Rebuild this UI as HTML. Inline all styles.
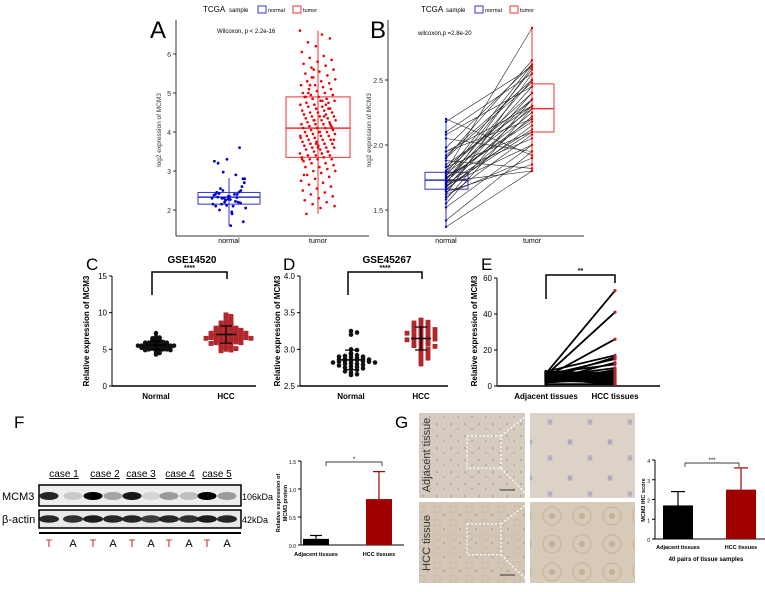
<!DOCTYPE html>
<html><head><meta charset="utf-8">
<style>
html,body{margin:0;padding:0;background:#fff;}
svg{display:block;font-family:"Liberation Sans",Arial,sans-serif;}
</style></head>
<body>
<svg id="fig" width="765" height="592" viewBox="0 0 765 592" xmlns="http://www.w3.org/2000/svg">
<defs>
<pattern id="tis1" width="14" height="12" patternUnits="userSpaceOnUse">
<rect width="14" height="12" fill="#d5cbbf"/><circle cx="3" cy="4" r="0.8" fill="#8d86a0"/><circle cx="10" cy="9" r="0.7" fill="#9a90a6"/></pattern>
<pattern id="tis2" width="16" height="14" patternUnits="userSpaceOnUse">
<rect width="16" height="14" fill="#d3c6b6"/><circle cx="5" cy="5" r="3.5" fill="none" stroke="#c8b8a3" stroke-width="0.8"/><circle cx="12" cy="11" r="0.8" fill="#a48f7a"/></pattern>
<pattern id="tis3" width="40" height="36" patternUnits="userSpaceOnUse">
<rect width="40" height="36" fill="#dcd2c8"/><ellipse cx="10" cy="10" rx="2.5" ry="3" fill="#b4abc3"/><ellipse cx="30" cy="26" rx="2.5" ry="3" fill="#bab0c6"/></pattern>
<pattern id="tis4" width="30" height="28" patternUnits="userSpaceOnUse">
<rect width="30" height="28" fill="#d8cab8"/><circle cx="12" cy="12" r="9" fill="none" stroke="#cbb89f" stroke-width="1.5"/><circle cx="12" cy="12" r="3" fill="#c4b098"/></pattern>
</defs>
<g id="root"></g>
</svg>
<script>
// ---------- DATA ----------
const aNormal=[2.3,2.2,2.4,2.1,2.35,2.5,2.0,1.9,2.8,2.97,2.9,3.25,3.3,3.6,3.2,1.6,1.7,2.3,2.4,2.15,2.25,2.2,2.45,2.35,2.6,2.55,2.1,2.05,2.3,2.32,2.4,2.28,2.18,2.42,1.95,2.7,2.5,2.22,2.38,2.12,2.46,2.33,2.27,2.8,2.15];
const aTumor=[6.6,6.5,6.3,6.4,6.2,6.05,5.95,5.9,5.85,5.8,5.75,5.7,5.65,5.6,5.55,5.5,5.45,5.4,5.35,5.3,5.3,5.25,5.2,5.2,5.15,5.1,5.1,5.05,5.0,5.0,4.95,4.95,4.9,4.9,4.85,4.85,4.8,4.8,4.75,4.75,4.7,4.7,4.65,4.65,4.6,4.6,4.55,4.55,4.5,4.5,4.5,4.45,4.45,4.4,4.4,4.4,4.35,4.35,4.3,4.3,4.3,4.25,4.25,4.2,4.2,4.2,4.15,4.15,4.1,4.1,4.1,4.05,4.05,4.0,4.0,4.0,3.95,3.95,3.9,3.9,3.9,3.85,3.85,3.8,3.8,3.8,3.75,3.75,3.7,3.7,3.7,3.65,3.65,3.6,3.6,3.6,3.55,3.55,3.5,3.5,3.45,3.45,3.4,3.4,3.4,3.35,3.35,3.3,3.3,3.3,3.25,3.2,3.2,3.15,3.1,3.1,3.05,3.0,3.0,2.95,2.9,2.85,2.8,2.75,2.7,2.65,2.6,2.55,2.5,2.45,2.4,2.35,2.3,2.25,2.2,2.15,2.1,2.05,1.9,4.6,4.3,3.9,4.8,5.0,4.2,3.7,3.3,4.4,5.2,4.1,3.6,2.9,4.7,5.4,3.8,4.0,4.9,3.5,5.6];
const bNormal=[2.2,2.18,2.1,2.08,2.05,1.98,1.95,1.92,1.9,1.88,1.85,1.83,1.8,1.8,1.78,1.77,1.76,1.75,1.74,1.73,1.72,1.72,1.71,1.7,1.7,1.69,1.68,1.67,1.66,1.65,1.64,1.62,1.6,1.58,1.55,1.52,1.42,1.37,1.9,1.78,1.74,1.68,1.83,1.95,1.62];
const bTumor=[1.92,2.6,2.55,2.45,1.95,2.62,2.2,2.5,2.65,1.82,2.3,2.1,2.9,2.4,2.28,2.05,2.58,2.18,2.35,2.5,1.8,2.25,2.45,2.12,2.6,2.0,2.3,2.4,2.15,2.22,1.85,2.55,2.08,2.35,2.28,2.0,1.95,1.8,2.48,2.62,2.2,2.1,2.35,2.3,1.9];
const cNormal=[7.2,6.7,6.6,6.6,6.5,6.4,6.3,6.3,6.2,6.1,6.1,6.0,6.0,5.9,5.9,5.9,5.8,5.8,5.8,5.7,5.7,5.7,5.7,5.6,5.6,5.6,5.6,5.6,5.5,5.5,5.5,5.5,5.5,5.5,5.4,5.4,5.4,5.4,5.4,5.4,5.3,5.3,5.3,5.3,5.3,5.2,5.2,5.2,5.2,5.1,5.1,5.1,5.0,5.0,5.0,4.9,4.9,4.8,4.7,4.6,4.5,4.3];
const cHcc=[9.7,9.6,9.5,9.2,9.0,8.8,8.7,8.6,8.5,8.4,8.3,8.2,8.1,8.0,7.9,7.9,7.8,7.8,7.7,7.7,7.6,7.6,7.5,7.5,7.4,7.4,7.3,7.3,7.2,7.2,7.1,7.1,7.0,7.0,7.0,6.9,6.9,6.8,6.8,6.8,6.7,6.7,6.6,6.6,6.6,6.5,6.5,6.4,6.4,6.3,6.3,6.2,6.2,6.1,6.1,6.0,6.0,5.9,5.9,5.8,5.7,5.6,5.5,5.4,5.3,5.2,5.1,5.0,4.9,4.8];
const dNormal=[3.25,3.23,3.2,3.0,2.99,2.95,2.93,2.92,2.91,2.9,2.9,2.89,2.88,2.87,2.87,2.86,2.86,2.85,2.85,2.84,2.84,2.83,2.83,2.82,2.82,2.81,2.8,2.8,2.79,2.78,2.77,2.76,2.75,2.74,2.73,2.72,2.7,2.68,2.66,2.65];
const dHcc=[3.4,3.39,3.37,3.36,3.35,3.33,3.32,3.3,3.29,3.28,3.27,3.26,3.25,3.24,3.23,3.22,3.21,3.2,3.19,3.18,3.17,3.16,3.15,3.14,3.13,3.12,3.1,3.09,3.08,3.07,3.05,3.04,3.02,3.0,2.98,2.96,2.94,2.92,2.9,2.88,2.85,2.8];
const eAdj=[7,6,5,8,4,6,3,7,5,2,6,4,8,3,5,7,2,6,4,5,3,7,6,1,5,4,8,2,6,3,5,7];
const eHcc=[53,41,26,17,16,15,13,12,10,9,8,7,7,6,5,5,4,4,3,3,2,2,2,1,1,1,6,4,3,2,1,1];
const fCats=["Adjacent tissues","HCC tissues"];
const fMeans=[0.11,0.82];
const fErrs=[0.06,0.49];
const gCats=["Adjacent tissues","HCC tissues"];
const gMeans=[1.7,2.5];
const gErrs=[0.7,1.1];
const wbCases=["case 1","case 2","case 3","case 4","case 5"];
const wbLanes=["T","A","T","A","T","A","T","A","T","A"];
const mcm3Band=[0.85,0.15,1.0,0.3,0.9,0.1,0.35,0.2,1.0,0.35];
const actinBand=[0.9,0.85,0.95,0.9,0.9,0.8,0.9,0.85,0.95,0.9];

// ---------- HELPERS ----------
const NS="http://www.w3.org/2000/svg";
const root=document.getElementById('root');
function mk(tag,attrs,parent,text){const e=document.createElementNS(NS,tag);for(const k in attrs)e.setAttribute(k,attrs[k]);if(text!==undefined)e.textContent=text;(parent||root).appendChild(e);return e;}
function grp(name){const g=mk('g',{});


return g;}
function lin(d0,d1,r0,r1){return v=>r0+(v-d0)/(d1-d0)*(r1-r0);}
function yAxis(g,x,y,ticks,fmt,fs){mk('line',{x1:x,y1:y(ticks[0])+0,x2:x,y2:y(ticks[ticks.length-1]),stroke:'#000','stroke-width':1},g);
ticks.forEach(t=>{mk('line',{x1:x-3,y1:y(t),x2:x,y2:y(t),stroke:'#000'},g);mk('text',{x:x-5,y:y(t)+3,'font-size':fs,'text-anchor':'end'},g,fmt(t));});}

// ---------- PANEL A ----------
(function(){
const g=grp('panel-a');
const y=lin(2,6,210,54);
mk('text',{x:150,y:38,'font-size':24},g,'A');
mk('line',{x1:176,y1:20,x2:176,y2:236,stroke:'#333'},g);
mk('line',{x1:176,y1:236,x2:369,y2:236,stroke:'#333'},g);
[2,3,4,5,6].forEach(t=>{mk('line',{x1:173,y1:y(t),x2:176,y2:y(t),stroke:'#333'},g);mk('text',{x:171,y:y(t)+3,'font-size':7,'text-anchor':'end',fill:'#333'},g,t);});
const yl=mk('text',{x:0,y:0,'font-size':6.5,'text-anchor':'middle',transform:'translate(161,130) rotate(-90)',fill:'#333'},g,'log2 expression of MCM3');


mk('text',{x:229,y:243,'font-size':7,'text-anchor':'middle'},g,'normal');
mk('text',{x:318,y:243,'font-size':7,'text-anchor':'middle'},g,'tumor');
mk('text',{x:217,y:33,'font-size':6},g,'Wilcoxon, p < 2.2e-16');
mk('text',{x:203,y:12,'font-size':8},g,'TCGA');
mk('text',{x:229,y:12,'font-size':6},g,'sample');
mk('rect',{x:258,y:6,width:8,height:7,fill:'none',stroke:'#33c'},g);
mk('text',{x:268,y:12,'font-size':5.5},g,'normal');
mk('rect',{x:293,y:6,width:8,height:7,fill:'none',stroke:'#e33'},g);
mk('text',{x:303,y:12,'font-size':5.5},g,'tumor');
function box(cx,w,col,q){
mk('line',{x1:cx,y1:y(q[3]),x2:cx,y2:y(q[4]),stroke:col},g);
mk('rect',{x:cx-w/2,y:y(q[2]),width:w,height:y(q[0])-y(q[2]),fill:'none',stroke:col},g);
mk('line',{x1:cx-w/2,y1:y(q[1]),x2:cx+w/2,y2:y(q[1]),stroke:col,'stroke-width':1.5},g);}
box(229,62,'#33c',[2.15,2.33,2.45,2.82,Math.min(...aNormal)]);
box(318,64,'#e33',[3.35,4.1,4.9,Math.min(...aTumor),Math.max(...aTumor)]);
aNormal.forEach((v,i)=>{const c=mk('circle',{cx:229+(((i*37)%100)/100-0.5)*34,cy:y(v),r:1.4,fill:'#00c'},g);

});
aTumor.forEach((v,i)=>{const c=mk('circle',{cx:318+(((i*61)%100)/100-0.5)*36,cy:y(v),r:1.3,fill:'#e00'},g);

});
})();

// ---------- PANEL B ----------
(function(){
const g=grp('panel-b');
const y=lin(2,2.5,145,80);
mk('text',{x:370,y:38,'font-size':24},g,'B');
mk('line',{x1:388,y1:20,x2:388,y2:236,stroke:'#333'},g);
mk('line',{x1:388,y1:236,x2:584,y2:236,stroke:'#333'},g);
[1.5,2.0,2.5].forEach(t=>{mk('line',{x1:385,y1:y(t),x2:388,y2:y(t),stroke:'#333'},g);mk('text',{x:383,y:y(t)+3,'font-size':7,'text-anchor':'end',fill:'#333'},g,t.toFixed(1));});
mk('text',{x:0,y:0,'font-size':6.5,'text-anchor':'middle',transform:'translate(371,130) rotate(-90)',fill:'#333'},g,'log2 expression of MCM3');
mk('text',{x:446,y:243,'font-size':7,'text-anchor':'middle'},g,'normal');
mk('text',{x:532,y:243,'font-size':7,'text-anchor':'middle'},g,'tumor');
mk('text',{x:418,y:35,'font-size':6},g,'wilcoxon,p =2.8e-20');
mk('text',{x:421,y:12,'font-size':8},g,'TCGA');
mk('text',{x:446,y:12,'font-size':6},g,'sample');
mk('rect',{x:475,y:6,width:8,height:7,fill:'none',stroke:'#33c'},g);
mk('text',{x:485,y:12,'font-size':5.5},g,'normal');
mk('rect',{x:510,y:6,width:8,height:7,fill:'none',stroke:'#e33'},g);
mk('text',{x:520,y:12,'font-size':5.5},g,'tumor');
mk('line',{x1:446,y1:y(Math.min(...bNormal)),x2:446,y2:y(Math.max(...bNormal)),stroke:'#33c'},g);
mk('rect',{x:425,y:y(1.79),width:43,height:y(1.66)-y(1.79),fill:'none',stroke:'#33c'},g);
mk('line',{x1:425,y1:y(1.73),x2:468,y2:y(1.73),stroke:'#33c','stroke-width':1.5},g);
mk('line',{x1:532,y1:y(Math.min(...bTumor)),x2:532,y2:y(Math.max(...bTumor)),stroke:'#e33'},g);
mk('rect',{x:532,y:y(2.47),width:22,height:y(2.1)-y(2.47),fill:'none',stroke:'#e33'},g);
mk('line',{x1:532,y1:y(2.28),x2:554,y2:y(2.28),stroke:'#e33','stroke-width':1.5},g);
bNormal.forEach((v,i)=>{const l=mk('line',{x1:446,y1:y(v),x2:532,y2:y(bTumor[i]),stroke:'#222','stroke-width':0.6},g);


mk('circle',{cx:446,cy:y(v),r:1.2,fill:'#00c'},g);mk('circle',{cx:532,cy:y(bTumor[i]),r:1.2,fill:'#e00'},g);});
})();

// ---------- BEESWARM (C, D) ----------
function swarm(g,vals,cx,y,bin,sp,col,shape,sz){const bins={};
vals.forEach(v=>{const k=Math.round(v/bin);bins[k]=(bins[k]||0)+1;const n=bins[k]-1;
const off=(n%2?1:-1)*Math.ceil(n/2)*sp;const px=cx+off,py=y(v);
let e;if(shape==='sq')e=mk('rect',{x:px-sz,y:py-sz,width:2*sz,height:2*sz,fill:col},g);else e=mk('circle',{cx:px,cy:py,r:sz,fill:col},g);

});}
function meanSd(g,vals,cx,y,w){const m=vals.reduce((a,b)=>a+b,0)/vals.length;const sd=Math.sqrt(vals.reduce((a,b)=>a+(b-m)*(b-m),0)/vals.length);
mk('line',{x1:cx-w,y1:y(m),x2:cx+w,y2:y(m),stroke:'#000','stroke-width':1.5},g);
[m-sd,m+sd].forEach(v=>{mk('line',{x1:cx,y1:y(m),x2:cx,y2:y(v),stroke:'#000','stroke-width':1.2},g);mk('line',{x1:cx-w*0.6,y1:y(v),x2:cx+w*0.6,y2:y(v),stroke:'#000','stroke-width':1.2},g);});}
function bracket(g,x1,x2,yt,yl,yr,txt){mk('polyline',{points:`${x1},${yl} ${x1},${yt} ${x2},${yt} ${x2},${yr}`,fill:'none',stroke:'#000','stroke-width':1.5},g);
mk('text',{x:(x1+x2)/2,y:yt-2,'font-size':7,'text-anchor':'middle','font-weight':'bold'},g,txt);}

// ---------- PANEL C ----------
(function(){
const g=grp('panel-c');
const y=lin(0,15,386,276);
mk('text',{x:86,y:270,'font-size':17},g,'C');
mk('text',{x:192,y:263,'font-size':10,'font-weight':'bold','text-anchor':'middle'},g,'GSE14520');
yAxis(g,112,y,[0,5,10,15],t=>t,8);
mk('line',{x1:112,y1:386,x2:256,y2:386,stroke:'#000','stroke-width':1.5},g);
mk('text',{x:0,y:0,'font-size':8,'font-weight':'bold','text-anchor':'middle',transform:'translate(89,331) rotate(-90)'},g,'Relative expression of MCM3');
mk('text',{x:156,y:399,'font-size':8,'font-weight':'bold','text-anchor':'middle'},g,'Normal');
mk('text',{x:226,y:399,'font-size':8,'font-weight':'bold','text-anchor':'middle'},g,'HCC');
bracket(g,152,227,272,295,279,'****');
swarm(g,cNormal,156,y,0.2,3.6,'#111','c',2.3);
swarm(g,cHcc,226,y,0.35,5,'#b0272c','sq',2.4);
meanSd(g,cNormal,156,y,10);meanSd(g,cHcc,226,y,10);
})();

// ---------- PANEL D ----------
(function(){
const g=grp('panel-d');
const y=lin(2.5,4,386,276);
mk('text',{x:283,y:270,'font-size':17},g,'D');
mk('text',{x:387,y:263,'font-size':10,'font-weight':'bold','text-anchor':'middle'},g,'GSE45267');
yAxis(g,300,y,[2.5,3.0,3.5,4.0],t=>t.toFixed(1),8);
mk('line',{x1:300,y1:386,x2:448,y2:386,stroke:'#000','stroke-width':1.5},g);
mk('text',{x:0,y:0,'font-size':8,'font-weight':'bold','text-anchor':'middle',transform:'translate(280,331) rotate(-90)'},g,'Relative expression of MCM3');
mk('text',{x:351,y:399,'font-size':8,'font-weight':'bold','text-anchor':'middle'},g,'Normal');
mk('text',{x:421,y:399,'font-size':8,'font-weight':'bold','text-anchor':'middle'},g,'HCC');
bracket(g,348,422,272,295,279,'****');
swarm(g,dNormal,351,y,0.04,6,'#111','c',2.3);
swarm(g,dHcc,421,y,0.045,7,'#b0272c','sq',2.4);
meanSd(g,dNormal,351,y,10);meanSd(g,dHcc,421,y,10);
})();

// ---------- PANEL E ----------
(function(){
const g=grp('panel-e');
const y=lin(0,60,386,278);
mk('text',{x:481,y:270,'font-size':17},g,'E');
yAxis(g,497,y,[0,20,40,60],t=>t,8);
mk('line',{x1:497,y1:386,x2:660,y2:386,stroke:'#000','stroke-width':1.5},g);
mk('text',{x:0,y:0,'font-size':8,'font-weight':'bold','text-anchor':'middle',transform:'translate(477,331) rotate(-90)'},g,'Relative expression of MCM3');
mk('text',{x:546,y:399,'font-size':8,'font-weight':'bold','text-anchor':'middle'},g,'Adjacent tissues');
mk('text',{x:615,y:399,'font-size':8,'font-weight':'bold','text-anchor':'middle'},g,'HCC tissues');
bracket(g,546,615,275,299,283,'**');
eAdj.forEach((v,i)=>{const l=mk('line',{x1:546,y1:y(v),x2:615,y2:y(eHcc[i]),stroke:'#000','stroke-width':1.8},g);


mk('circle',{cx:546,cy:y(v),r:1.6,fill:'#000'},g);mk('circle',{cx:615,cy:y(eHcc[i]),r:1.6,fill:'#b0272c'},g);});
})();

// ---------- PANEL F ----------
(function(){
const g=grp('panel-f');
mk('text',{x:14,y:428,'font-size':17},g,'F');
const lx=[49,73,93,113,132,151,169,189,207,227];
const cx=[64,105,141,180,217];
wbCases.forEach((c,i)=>{mk('text',{x:cx[i],y:477,'font-size':10,'text-anchor':'middle','text-decoration':'underline'},g,c);});
mk('rect',{x:39,y:485,width:202,height:21,fill:'#eee',stroke:'#000','stroke-width':1.5},g);
mk('rect',{x:39,y:510,width:202,height:18,fill:'#e8e8e8',stroke:'#000','stroke-width':1.5},g);
mcm3Band.forEach((v,i)=>{mk('ellipse',{cx:lx[i],cy:496,rx:9.5,ry:4,fill:'#000','fill-opacity':v},g);});
actinBand.forEach((v,i)=>{mk('ellipse',{cx:lx[i],cy:519,rx:10,ry:3.8,fill:'#111','fill-opacity':v},g);});
mk('line',{x1:39,y1:533,x2:241,y2:533,stroke:'#000','stroke-width':2},g);
wbLanes.forEach((t,i)=>{mk('text',{x:lx[i],y:547,'font-size':11,'text-anchor':'middle',fill:t==='T'?'#c0272d':'#000'},g,t);});
mk('text',{x:2,y:500,'font-size':11},g,'MCM3');
mk('text',{x:2,y:523,'font-size':11},g,'β-actin');
mk('text',{x:242,y:500,'font-size':9},g,'106kDa');
mk('text',{x:242,y:523,'font-size':9},g,'42kDa');
const y=lin(0,1.5,545,461);
yAxis(g,301,y,[0,0.5,1.0,1.5],t=>t.toFixed(1),5);
mk('line',{x1:301,y1:545,x2:404,y2:545,stroke:'#000'},g);
mk('text',{x:0,y:0,'font-size':5.5,'font-weight':'bold','text-anchor':'middle',transform:'translate(280,503) rotate(-90)'},g,'Relative  expression of');
mk('text',{x:0,y:0,'font-size':5.5,'font-weight':'bold','text-anchor':'middle',transform:'translate(287,503) rotate(-90)'},g,'MCM3 protein');
const bx=[316,379],cols=['#000','#a00000'];
fMeans.forEach((m,i)=>{mk('line',{x1:bx[i],y1:y(m),x2:bx[i],y2:y(m+fErrs[i]),stroke:cols[i],'stroke-width':1.2},g);
mk('line',{x1:bx[i]-6,y1:y(m+fErrs[i]),x2:bx[i]+6,y2:y(m+fErrs[i]),stroke:cols[i],'stroke-width':1.2},g);
const r=mk('rect',{x:bx[i]-13,y:y(m),width:26,height:545-y(m),fill:cols[i]},g);


mk('text',{x:bx[i],y:556,'font-size':5.5,'font-weight':'bold','text-anchor':'middle'},g,fCats[i]);});
mk('polyline',{points:'326,466 326,462 382,462 382,466',fill:'none',stroke:'#000','stroke-width':0.7},g);
mk('text',{x:354,y:461,'font-size':6,'text-anchor':'middle'},g,'*');
})();

// ---------- PANEL G ----------
(function(){
const g=grp('panel-g');
mk('text',{x:395,y:428,'font-size':17},g,'G');
mk('rect',{x:419,y:413,width:106,height:85,fill:'url(#tis1)'},g);
mk('rect',{x:530,y:413,width:105,height:85,fill:'url(#tis3)'},g);
mk('rect',{x:419,y:502,width:106,height:81,fill:'url(#tis2)'},g);
mk('rect',{x:530,y:502,width:105,height:81,fill:'url(#tis4)'},g);
[[413,498],[502,583]].forEach(([t,b])=>{const s=t+(b-t)*0.27,e=t+(b-t)*0.65;
mk('rect',{x:467,y:s,width:34,height:e-s,fill:'none',stroke:'#fff','stroke-dasharray':'2,2','stroke-width':1.3},g);
mk('line',{x1:501,y1:s,x2:530,y2:t,stroke:'#fff','stroke-dasharray':'2,2','stroke-width':1.3},g);
mk('line',{x1:501,y1:e,x2:530,y2:b,stroke:'#fff','stroke-dasharray':'2,2','stroke-width':1.3},g);
mk('line',{x1:500,y1:b-8,x2:515,y2:b-8,stroke:'#333'},g);});
mk('text',{x:0,y:0,'font-size':11,'text-anchor':'middle',fill:'#333',transform:'translate(430,455) rotate(-90)'},g,'Adjacent tissue');
mk('text',{x:0,y:0,'font-size':11,'text-anchor':'middle',fill:'#333',transform:'translate(430,543) rotate(-90)'},g,'HCC tissue');
const y=lin(0,4,539,460);
yAxis(g,655,y,[0,1,2,3,4],t=>t,5);
mk('line',{x1:655,y1:539,x2:765,y2:539,stroke:'#000'},g);
mk('text',{x:0,y:0,'font-size':5.5,'font-weight':'bold','text-anchor':'middle',transform:'translate(645,500) rotate(-90)'},g,'MCM3 IHC score');
const bx=[678,741],cols=['#000','#a00000'];
gMeans.forEach((m,i)=>{mk('line',{x1:bx[i],y1:y(m),x2:bx[i],y2:y(m+gErrs[i]),stroke:cols[i],'stroke-width':1.2},g);
mk('line',{x1:bx[i]-7,y1:y(m+gErrs[i]),x2:bx[i]+7,y2:y(m+gErrs[i]),stroke:cols[i],'stroke-width':1.2},g);
const r=mk('rect',{x:bx[i]-15,y:y(m),width:30,height:539-y(m),fill:cols[i]},g);


mk('text',{x:bx[i],y:549,'font-size':5.5,'font-weight':'bold','text-anchor':'middle'},g,gCats[i]);});
mk('text',{x:706,y:561,'font-size':6,'font-weight':'bold','text-anchor':'middle'},g,'40 pairs of tissue samples');
mk('polyline',{points:'685,467 685,463 739,463 739,467',fill:'none',stroke:'#000','stroke-width':0.7},g);
mk('text',{x:712,y:462,'font-size':6,'text-anchor':'middle'},g,'***');
})();
</script>
</body></html>
